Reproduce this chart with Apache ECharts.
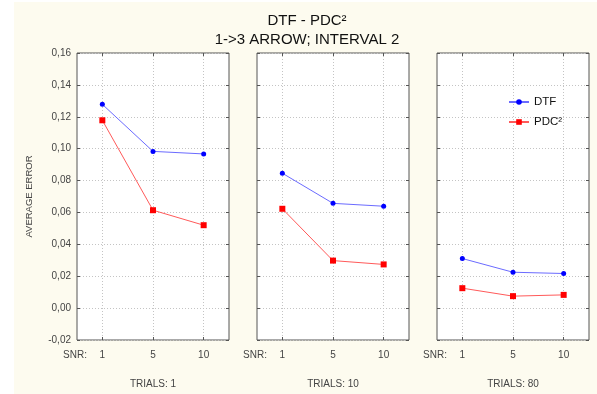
<!DOCTYPE html>
<html>
<head>
<meta charset="utf-8">
<script src="https://cdn.jsdelivr.net/npm/echarts@6/dist/echarts.min.js"></script>
<style>
  html, body { margin: 0; padding: 0; background: #fff; }
  #paper { position: absolute; left: 14px; top: 2px; right: 0; bottom: 0; background: #fdfbef; }
  #chart { position: absolute; left: 0; top: 0; width: 597px; height: 394px; }
</style>
</head>
<body>
<div id="paper"></div>
<div id="chart"></div>
<script>
const snrLabels = ["1", "5", "10"];
const trialLabels = ["TRIALS: 1", "TRIALS: 10", "TRIALS: 80"];
const yTicks = { min: -0.02, max: 0.16, step: 0.02 };

// average error per SNR, one array per trials panel
const dtfTrials1 = [0.1278, 0.0983, 0.0967];
const pdcTrials1 = [0.1178, 0.0614, 0.0520];
const dtfTrials10 = [0.0846, 0.0657, 0.0639];
const pdcTrials10 = [0.0623, 0.0298, 0.0274];
const dtfTrials80 = [0.0311, 0.0225, 0.0217];
const pdcTrials80 = [0.0125, 0.0075, 0.0083];

const dtfPanels = [dtfTrials1, dtfTrials10, dtfTrials80];
const pdcPanels = [pdcTrials1, pdcTrials10, pdcTrials80];

const font = "Liberation Sans, Arial, sans-serif";
const gridLine = { show: true, lineStyle: { color: "#c4c4c4", type: [1, 2], width: 1 } };
const tickStyle = { show: true, inside: true, length: 3, lineStyle: { color: "#555" } };
const noLine = { show: false, onZero: false };

const chart = echarts.init(document.getElementById("chart"));

const grids = [];
const xAxes = [];
const snrAxes = [];
const yAxes = [];
const series = [];

trialLabels.forEach((trial, i) => {
  grids.push({
    left: 77 + i * 180, top: 53, width: 152, height: 292,
    show: true, backgroundColor: "#fff", borderColor: "#555", borderWidth: 1
  });

  // bottom axis with labels
  xAxes.push({
    type: "category", gridIndex: i, data: snrLabels, boundaryGap: true,
    position: "bottom",
    name: trial, nameLocation: "middle", nameGap: 39,
    nameTextStyle: { fontFamily: font, fontSize: 10, color: "#444" },
    axisLine: noLine,
    axisTick: Object.assign({ alignWithLabel: true }, tickStyle),
    axisLabel: { fontFamily: font, fontSize: 10, color: "#444", margin: 10 },
    splitLine: Object.assign({ alignWithLabel: true }, gridLine)
  });
  // top axis, ticks only
  xAxes.push({
    type: "category", gridIndex: i, data: snrLabels, boundaryGap: true,
    position: "top",
    axisLine: noLine,
    axisTick: Object.assign({ alignWithLabel: true }, tickStyle),
    axisLabel: { show: false },
    splitLine: { show: false }
  });
  // "SNR:" caption, left of the first tick label
  snrAxes.push({
    type: "category", gridIndex: i, data: snrLabels, position: "bottom", offset: 15,
    name: "SNR:", nameLocation: "start", nameGap: -10,
    nameTextStyle: { fontFamily: font, fontSize: 10, color: "#444", align: "right" },
    axisLine: noLine, axisTick: { show: false }, axisLabel: { show: false },
    splitLine: { show: false }
  });

  yAxes.push({
    type: "value", gridIndex: i, min: yTicks.min, max: yTicks.max, interval: yTicks.step,
    position: "left",
    name: i === 0 ? "AVERAGE ERROR" : "", nameLocation: "middle", nameGap: 43,
    nameTextStyle: { fontFamily: font, fontSize: 9.5, color: "#444" },
    axisLine: noLine,
    axisTick: tickStyle,
    axisLabel: {
      show: i === 0, fontFamily: font, fontSize: 10, color: "#444", margin: 6,
      formatter: (v) => v.toFixed(2).replace(".", ",")
    },
    splitLine: gridLine
  });
  yAxes.push({
    type: "value", gridIndex: i, min: yTicks.min, max: yTicks.max, interval: yTicks.step,
    position: "right",
    axisLine: noLine,
    axisTick: tickStyle,
    axisLabel: { show: false },
    splitLine: { show: false }
  });

  series.push({
    name: "DTF", type: "line", xAxisIndex: i * 2, yAxisIndex: i * 2,
    data: dtfPanels[i],
    symbol: "circle", symbolSize: 5,
    itemStyle: { color: "#0000ff" },
    lineStyle: { color: "#6b6bff", width: 1 }
  });
  series.push({
    name: "PDC²", type: "line", xAxisIndex: i * 2, yAxisIndex: i * 2,
    data: pdcPanels[i],
    symbol: "rect", symbolSize: 6,
    itemStyle: { color: "#ff0000" },
    lineStyle: { color: "#ff5a5a", width: 1 }
  });
});

chart.setOption({
  animation: false,
  textStyle: { fontFamily: font },
  title: {
    text: "DTF - PDC²\n1->3 ARROW; INTERVAL 2",
    left: 302, top: 6, textAlign: "center",
    textStyle: { fontFamily: font, fontSize: 15, fontWeight: "normal", color: "#111", lineHeight: 19 }
  },
  legend: {
    data: ["DTF", "PDC²"],
    orient: "vertical", left: 508, top: 96, padding: 0,
    itemWidth: 20, itemHeight: 7, itemGap: 8,
    textStyle: { fontFamily: font, fontSize: 11.5, color: "#111" }
  },
  grid: grids,
  xAxis: xAxes.concat(snrAxes),
  yAxis: yAxes,
  series: series
});
</script>
</body>
</html>
